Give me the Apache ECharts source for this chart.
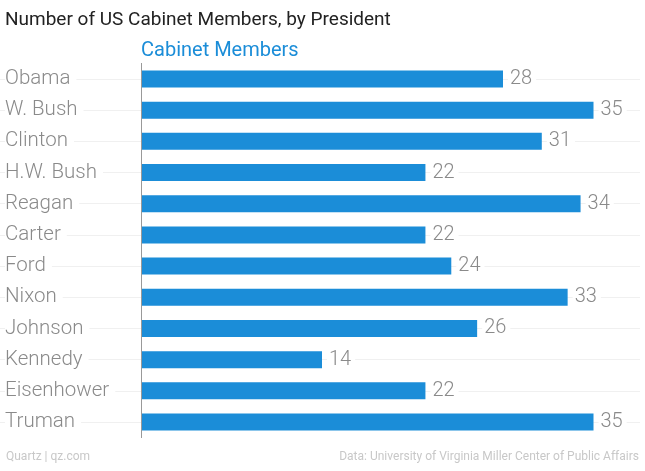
<!DOCTYPE html>
<html><head><meta charset="utf-8">
<script src="https://cdn.jsdelivr.net/npm/echarts@6/dist/echarts.min.js"></script>
<style>html,body{margin:0;padding:0;background:#fff}#c{width:645px;height:471px}</style>
</head><body><div id="c"></div>
<script>
const presidents = ["Obama","W. Bush","Clinton","H.W. Bush","Reagan","Carter","Ford","Nixon","Johnson","Kennedy","Eisenhower","Truman"];
const cabinetMembers = [28,35,31,22,34,22,24,33,26,14,22,35];
const seriesName = "Cabinet Members";

const chart = echarts.init(document.getElementById('c'));
const labelFont = 'Roboto';
chart.setOption({
  backgroundColor: '#ffffff',
  animation: false,
  title: [
    {text: 'Number of US Cabinet Members, by President', left: 0, top: 6,
     textStyle: {fontFamily: labelFont, fontSize: 19, fontWeight: 400, color: '#222'}},
    {text: seriesName, left: 136, top: 36,
     textStyle: {fontFamily: labelFont, fontSize: 20, fontWeight: 400, color: '#1b8dd8'}},
    {text: 'Quartz | qz.com', left: 1, bottom: 3,
     textStyle: {fontFamily: labelFont, fontSize: 12, fontWeight: 400, color: '#c8c8c8'}},
    {text: 'Data: University of Virginia Miller Center of Public Affairs', right: 1, bottom: 3,
     textStyle: {fontFamily: labelFont, fontSize: 12, fontWeight: 400, color: '#c8c8c8'}}
  ],
  grid: [
    {left: 141, right: 51.5, top: 63.4, bottom: 33.4},
    {left: 0, right: 5, top: 79, bottom: 49}
  ],
  xAxis: [
    {type: 'value', min: 0, max: 35, gridIndex: 0, show: false},
    {type: 'value', min: 0, max: 1, gridIndex: 1, show: false}
  ],
  yAxis: [
    {type: 'category', data: presidents, inverse: true, gridIndex: 0,
     axisLine: {show: true, lineStyle: {color: '#999', width: 1}},
     axisTick: {show: false},
     splitLine: {show: false},
     axisLabel: {align: 'left', margin: 136, fontFamily: labelFont, fontSize: 20.5, fontWeight: 300,
                 color: '#8a8a8a', backgroundColor: '#fff', padding: [5, 6, 1, 0]},
     z: 5},
    {type: 'category', data: presidents, inverse: true, gridIndex: 1, boundaryGap: false,
     axisLine: {show: false}, axisTick: {show: false}, axisLabel: {show: false},
     splitLine: {show: true, interval: 0, lineStyle: {color: '#f0f0f0', width: 1}}}
  ],
  series: [{
    type: 'bar', name: seriesName, data: cabinetMembers, xAxisIndex: 0, yAxisIndex: 0,
    barWidth: 17, z: 3,
    itemStyle: {color: '#1b8dd8'},
    label: {show: true, position: 'right', distance: 5, fontFamily: labelFont, fontSize: 20, fontWeight: 300,
            color: '#8a8a8a', backgroundColor: '#fff', padding: [5, 4, 1, 2]}
  }]
});
</script></body></html>
